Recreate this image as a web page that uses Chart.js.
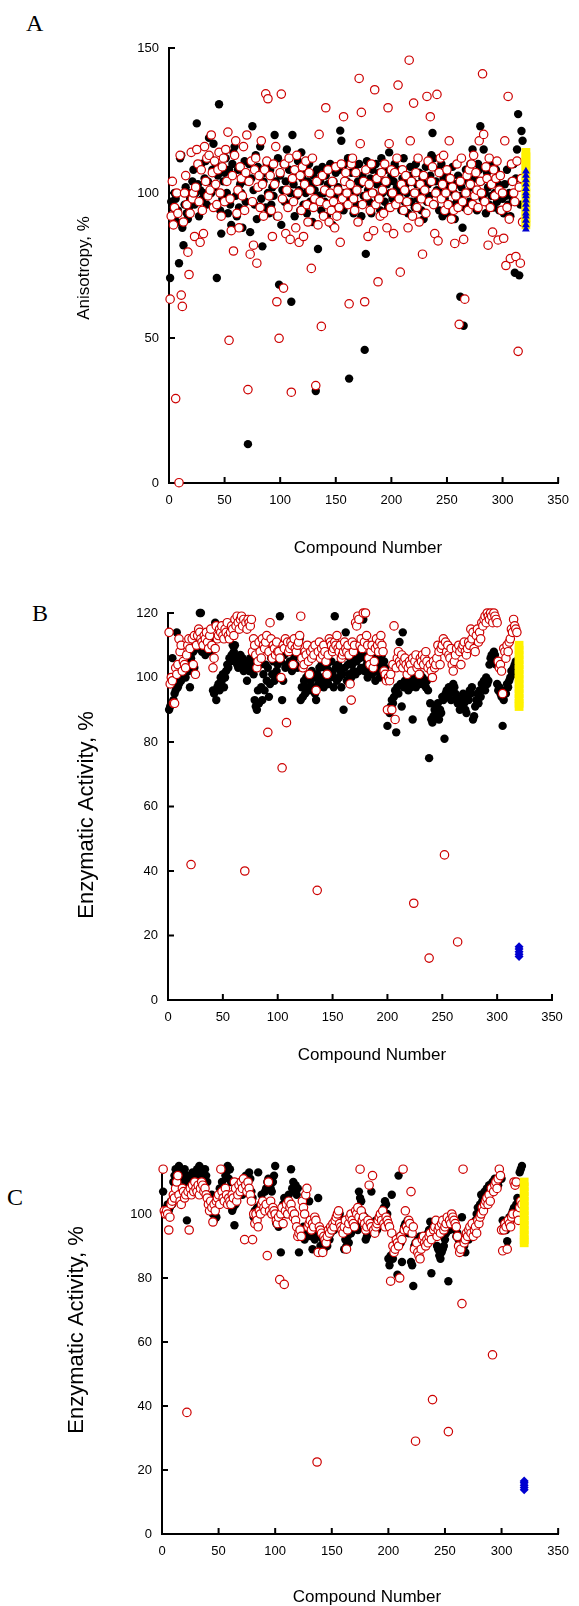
<!DOCTYPE html>
<html>
<head>
<meta charset="utf-8">
<script src="https://cdn.jsdelivr.net/npm/chart.js@4/dist/chart.umd.min.js"></script>
<style>
  body { margin: 0; background: #fff; }
  #page { position: relative; width: 579px; height: 1606px; overflow: hidden; }
  canvas { position: absolute; left: 0; }
  .tag { position: absolute; font-family: "Liberation Serif", serif; font-size: 24px; color: #000; line-height: 24px; }
</style>
</head>
<body>
<div id="page">
  <div class="tag" style="left:26px; top:11px;">A</div>
  <div class="tag" style="left:32px; top:601px;">B</div>
  <div class="tag" style="left:7px; top:1185px;">C</div>
  <canvas id="chartA" width="579" height="560" style="top:0px"></canvas>
  <canvas id="chartB" width="579" height="510" style="top:560px"></canvas>
  <canvas id="chartC" width="579" height="536" style="top:1070px"></canvas>
</div>
<script>
// compound numbers 1..318 (x categories)
const compoundNo = Array.from({ length: 318 }, (_, i) => i + 1);

// Panel A - anisotropy, %
const anisoBlack = [
  70.7, 97, 95, 92, 100, 98, 90, 94, 75.8, 112, 113, 88, 82, 96, 102, 93, 91, 95, 98, 100,
  104, 108, 96, 100, 124, 103, 92, 101, 110, 98, 100, 105, 111, 96, 104, 119, 112, 100, 108, 117,
  102, 110, 70.7, 106, 130.6, 94, 86, 98, 104, 107, 112, 100, 93, 108, 96, 89, 110, 114, 116, 99,
  92, 108, 95, 103, 100, 88, 106, 111, 97, 104, 13.4, 110, 86.5, 105, 123, 101, 96, 113, 91, 109,
  102, 116, 98, 81.6, 104, 107, 95, 110, 100, 93, 108, 96, 102, 99, 120, 104, 92, 112, 68.4, 106,
  89, 101, 110, 97, 104, 115, 96, 108, 100, 62.5, 120, 103, 92, 107, 99, 111, 101, 94, 114, 105,
  96, 108, 100, 93, 104, 110, 97, 103, 90, 106, 101, 31.7, 108, 80.7, 99, 104, 94, 109, 100, 97,
  106, 92, 103, 100, 110, 96, 89, 104, 99, 107, 95, 102, 108, 121.5, 118, 100, 94, 110, 96, 104,
  112, 36, 98, 107, 101, 93, 108, 100, 96, 104, 110, 103, 92, 106, 99, 45.9, 79, 111, 101, 97,
  105, 93, 108, 100, 96, 110, 103, 98, 107, 94, 112, 100, 104, 97, 108, 103, 95, 114, 100, 106,
  98, 104, 110, 96, 102, 108, 99, 101, 94, 105, 112, 97, 103, 100, 93, 106, 109, 97, 104, 100,
  95, 110, 103, 98, 107, 100, 94, 105, 91, 102, 109, 97, 103, 99, 106, 113, 120.7, 112, 96, 104,
  101, 108, 94, 100, 110, 92, 105, 98, 103, 107, 93, 101, 96, 104, 109, 100, 91, 103, 97, 106,
  99, 64.2, 102, 88, 54.2, 95, 108, 100, 104, 97, 110, 102, 115, 96, 105, 101, 94, 110, 108, 123,
  104, 98, 115, 100, 93, 107, 102, 96, 110, 99, 104, 95, 100, 108, 97, 103, 94, 106, 100, 98,
  93, 103, 99, 108, 96, 100, 92, 104, 98, 110, 72.5, 105, 115, 127.2, 71.6, 96, 121.4, 118
];
const anisoRed = [
  63.4, 92, 104, 89, 95, 29.1, 100, 93, 0.1, 113, 64.8, 60.9, 90, 100, 106, 96, 79.6, 71.9, 93, 114,
  98, 100, 85, 102, 115, 110, 97, 83, 108, 94, 86, 116, 104, 112, 99, 113, 101, 120, 107, 95,
  111, 103, 96, 108, 114, 100, 92, 109, 112, 97, 115, 104, 121, 49.2, 98, 87, 106, 80, 113, 118,
  93, 101, 88, 109, 105, 99, 116, 94, 107, 120, 32.2, 104, 78.9, 111, 97, 82, 108, 112, 75.8, 102,
  106, 95, 118, 103, 92, 108, 134.2, 111, 132.5, 99, 106, 94, 85, 110, 103, 116, 62.5, 92, 49.9, 107,
  134.1, 98, 67.2, 110, 86, 101, 95, 112, 84, 31.3, 105, 97, 108, 88, 113, 100, 83, 106, 94, 109,
  85, 103, 111, 96, 90, 107, 101, 74, 112, 95, 98, 33.6, 104, 89, 120.2, 97, 54, 106, 92, 101,
  129.4, 96, 108, 90, 100, 94, 104, 97, 88, 109, 92, 101, 95, 83, 110, 98, 126.3, 104, 107, 100,
  96, 61.8, 103, 110, 112, 98, 94, 107, 101, 90, 139.5, 117, 127.8, 96, 104, 62.5, 108, 99, 85, 103,
  94, 110, 100, 87, 135.6, 96, 105, 69.4, 98, 92, 107, 101, 93, 110, 104, 88, 129.4, 117, 95, 108,
  100, 86, 107, 96, 112, 137.2, 98, 72.7, 103, 108, 94, 101, 106, 97, 88, 145.8, 118, 104, 92, 131,
  100, 107, 95, 112, 90, 103, 98, 78.9, 106, 101, 93, 133.3, 111, 97, 126.3, 104, 109, 96, 86, 100,
  134, 83.5, 107, 112, 98, 103, 113, 94, 100, 108, 96, 118, 105, 91, 102, 94, 82.6, 99, 110, 95,
  54.7, 104, 112, 97, 84, 63.4, 100, 106, 94, 108, 103, 110, 96, 113, 99, 107, 101, 95, 118, 104,
  100, 141.1, 120.2, 97, 109, 105, 82, 112, 95, 103, 86.5, 108, 99, 105, 111, 83.8, 101, 106, 94, 100,
  84.4, 118, 75, 95, 133.3, 91, 77.4, 110, 104, 100, 97, 78.1, 111, 45.4, 102, 75.8, 105, 90
];
const anisoYellow = [89, 90, 91.5, 93, 94.5, 96, 98, 100, 102, 104, 106, 108, 109.5, 111, 112.5, 114];
const anisoBlue = [87.5, 89, 90.5, 92, 93, 94.5, 96, 97.5, 99, 100, 101.5, 103, 104.5, 106, 107.5];

// Panel B - enzymatic activity, %
const enzBBlack = [
  90, 91, 92, 106, 93, 95, 96, 114, 97, 98, 100, 99, 102, 101, 104, 100, 103, 105, 102, 97,
  106, 104, 108, 103, 110, 109, 112, 111, 120, 120, 108, 110, 112, 107, 111, 109, 113, 110, 108, 112,
  96, 95, 117, 93, 97, 98, 96, 100, 99, 101, 97, 100, 102, 104, 103, 106, 105, 107, 110, 108,
  110, 106, 104, 103, 105, 107, 104, 106, 102, 103, 105, 99, 104, 102, 106, 103, 105, 101, 93, 91,
  90, 96, 92, 104, 97, 93, 101, 96, 104, 99, 103, 94, 98, 106, 101, 105, 99, 107, 102, 104,
  100, 119, 105, 93, 99, 107, 103, 109, 104, 110, 105, 108, 102, 110, 106, 104, 109, 103, 107, 112,
  93, 97, 94, 99, 95, 100, 97, 101, 96, 99, 102, 97, 100, 95, 93, 101, 98, 103, 99, 104,
  100, 97, 103, 99, 104, 98, 102, 100, 105, 101, 97, 119, 103, 99, 104, 100, 102, 97, 101, 90,
  103, 114, 99, 104, 101, 106, 100, 104, 102, 107, 101, 105, 108, 102, 106, 103, 107, 118, 102, 106,
  104, 100, 107, 102, 105, 101, 106, 103, 99, 105, 102, 106, 100, 104, 107, 101, 105, 103, 100, 85,
  90, 89, 91, 93, 92, 94, 96, 83, 97, 95, 111, 98, 91, 114, 97, 99, 98, 100, 96, 99,
  97, 100, 87, 98, 99, 97, 100, 98, 99, 101, 98, 100, 99, 98, 97, 99, 96, 75, 92, 87,
  86, 88, 90, 89, 91, 92, 87, 90, 89, 94, 93, 81, 95, 96, 94, 97, 95, 93, 96, 98,
  97, 95, 94, 92, 93, 90, 91, 93, 95, 92, 90, 89, 94, 93, 96, 95, 97, 87, 88, 91,
  93, 95, 92, 96, 94, 98, 97, 99, 96, 100, 98, 99, 104, 106, 107, 105, 108, 107, 104, 98,
  96, 97, 95, 94, 85, 93, 96, 95, 98, 97, 99, 100, 102, 101, 103, 104, 105, 103
];
const enzBRed = [
  114, 98, 100, 99, 92, 92, 103, 101, 104, 112, 108, 110, 102, 105, 104, 103, 107, 110, 112, 109,
  42, 112, 104, 113, 101, 110, 113, 115, 114, 112, 111, 110, 113, 112, 114, 111, 109, 113, 115, 110,
  103, 106, 109, 116, 112, 113, 115, 114, 116, 113, 112, 115, 114, 117, 113, 112, 114, 116, 115, 113,
  118, 116, 119, 117, 115, 118, 119, 116, 118, 40, 117, 115, 118, 117, 116, 118, 108, 112, 110, 107,
  103, 105, 111, 108, 106, 112, 110, 109, 111, 113, 83, 108, 117, 112, 106, 110, 109, 107, 111, 108,
  108, 106, 100, 72, 110, 109, 112, 86, 111, 108, 109, 111, 110, 104, 112, 109, 108, 110, 111, 113,
  119, 106, 103, 104, 108, 107, 110, 105, 101, 108, 106, 109, 107, 110, 96, 34, 108, 111, 106, 109,
  107, 110, 108, 105, 101, 107, 112, 111, 110, 108, 109, 111, 110, 113, 109, 108, 110, 106, 107, 108,
  111, 109, 108, 110, 107, 98, 93, 111, 108, 110, 117, 116, 119, 118, 110, 112, 109, 120, 111, 120,
  113, 110, 106, 104, 108, 110, 103, 105, 109, 112, 110, 108, 111, 113, 110, 108, 102, 101, 99, 90,
  100, 99, 101, 90, 104, 116, 87, 103, 106, 108, 105, 104, 107, 103, 105, 106, 104, 101, 103, 105,
  104, 102, 106, 30, 105, 107, 103, 104, 101, 106, 105, 107, 104, 106, 108, 105, 103, 13, 104, 102,
  100, 105, 103, 104, 106, 110, 108, 104, 109, 110, 112, 45, 111, 108, 110, 107, 106, 109, 104, 102,
  105, 107, 109, 18, 110, 108, 104, 109, 110, 111, 108, 107, 109, 111, 110, 115, 112, 114, 109, 108,
  113, 115, 111, 114, 112, 117, 116, 118, 119, 117, 120, 119, 118, 120, 119, 117, 120, 119, 118, 117,
  105, 103, 104, 102, 95, 109, 108, 106, 110, 108, 111, 112, 115, 114, 118, 116, 115, 114
];
const enzBYellow = [91, 92, 93.5, 95, 96.5, 98, 99.5, 101, 102.5, 104, 105.5, 107, 108.5, 110];
const enzBBlue = [13.5, 14.2, 15, 15.8, 16.5];

// Panel C - enzymatic activity, %
const enzCBlack = [
  107, 101, 100, 102, 103, 101, 102, 104, 103, 110, 112, 114, 113, 110, 115, 114, 112, 113, 111, 114,
  110, 98, 112, 109, 111, 108, 113, 112, 110, 111, 114, 113, 115, 112, 114, 113, 111, 114, 112, 110,
  105, 103, 104, 106, 100, 98, 104, 99, 103, 105, 108, 107, 110, 106, 108, 112, 113, 115, 111, 114,
  110, 101, 102, 96.5, 103, 105, 109, 107, 110, 108, 106, 111, 109, 112, 108, 110, 113, 111, 107, 105,
  99, 101, 98, 102, 113, 100, 103, 106, 104, 101, 107, 108, 110, 111, 109, 108, 107, 110, 112, 115,
  97, 99, 96, 100, 88, 101, 103, 105, 100, 102, 104, 106, 103, 114, 108, 110, 107, 109, 106, 108,
  88, 93, 95, 94, 96, 92, 95, 93, 94, 104, 96, 93, 89, 95, 92, 97, 93, 105, 94, 90,
  88, 92, 89, 91, 93, 90, 95, 92, 94, 96, 97, 95, 98, 96, 99, 97, 100, 98, 96, 95,
  89, 92, 90, 93, 91, 95, 94, 97, 96, 99, 98, 96, 95, 107, 105, 104, 100, 98, 99, 92,
  93, 94, 95, 96, 107, 95, 97, 96, 98, 95, 97, 99, 100, 98, 101, 102, 104, 103, 100, 86,
  84, 87, 106, 86, 88, 90, 92, 81, 112, 93, 91, 85, 94, 96, 97, 95, 98, 94, 96, 85,
  84, 77.5, 90, 91, 89, 92, 90, 93, 91, 92, 90, 93, 92, 91, 94, 95, 97.6, 81.5, 96, 95,
  94, 93, 90, 89, 87, 86, 88, 89, 90, 92, 94, 96, 79, 95, 97, 96, 98, 97, 95, 93,
  94, 92, 90, 89, 99, 91, 90, 88, 93, 94, 92, 95, 96, 97, 94, 96, 98, 100, 102, 101,
  103, 106, 104, 105, 107, 104, 108, 106, 109, 107, 108, 110, 109, 111, 108, 110, 109, 111, 112, 111,
  98, 96, 97, 95, 91.5, 97, 99, 98, 100, 101, 102, 100, 103, 105, 104, 113, 114, 115
];
const enzCRed = [
  114, 101, 100, 101, 100, 95, 99, 103, 104, 106, 105, 108, 110, 112, 106, 104, 103, 108, 107, 105,
  106, 38, 107, 95, 108, 106, 109, 107, 110, 108, 107, 109, 106, 108, 110, 109, 107, 108, 106, 105,
  103, 101, 104, 102, 97.5, 103, 101, 104, 105, 106, 103, 114, 107, 105, 104, 108, 106, 103, 105, 104,
  103, 106, 105, 110, 108, 104, 106, 109, 107, 110, 108, 111, 92, 109, 107, 110, 108, 106, 104, 92,
  100, 97, 100, 98, 96, 101, 100, 103, 104, 102, 101, 103, 87, 110, 101, 104, 100, 102, 101, 100,
  98, 97, 99, 79.5, 100, 102, 97, 78, 101, 103, 100, 104, 102, 103, 101, 99, 100, 98, 96, 93,
  94, 95, 93, 104, 102, 100, 106, 108, 96, 97, 98, 95, 97, 96, 99, 98, 22.5, 88, 96, 95,
  94, 88, 93, 92, 91, 93, 95, 94, 96, 95, 97, 96, 98, 99, 100, 101, 97, 96, 95, 94,
  96, 98, 89, 95, 97, 99, 100, 98, 97, 96, 101, 100, 102, 99, 114, 101, 98, 99, 97, 95,
  96, 98, 109, 97, 96, 112, 95, 94, 96, 97, 98, 99, 100, 98, 101, 97, 96, 99, 98, 97,
  96, 79, 94, 90, 88, 89, 92, 91, 90, 80, 93, 92, 114, 95, 101, 96, 95, 98, 97, 107,
  94, 96, 89, 29, 91, 88, 87, 86, 89, 92, 93, 91, 90, 92, 91, 93, 94, 92, 42, 95,
  96, 98, 93, 95, 96, 94, 97, 98, 95, 96, 97, 99, 32, 98, 97, 100, 99, 98, 97, 96,
  93, 90, 88, 89, 72, 114, 91, 92, 94, 93, 95, 96, 94, 97, 93, 95, 96, 94, 98, 97,
  99, 100, 102, 101, 103, 104, 105, 103, 106, 104, 108, 56, 107, 109, 110, 108, 111, 114, 112, 95,
  88.5, 95, 97, 96, 89, 98, 97, 96, 99, 100, 110, 109, 110, 100, 98, 102, 104, 103
];
const enzCYellow = [91, 92, 93.5, 95, 96.5, 98, 99.5, 101, 102.5, 104, 105.5, 107, 108.5, 110];
const enzCBlue = [13.8, 14.5, 15.2, 16, 16.6];

const xTicks = [0, 50, 100, 150, 200, 250, 300, 350];

function pts(ys) { return ys.map((v, i) => ({ x: compoundNo[i], y: v })); }
function col(ys, x) { return ys.map(v => ({ x: x, y: v })); }

// ticks drawn inward from the axis lines
const inwardTicks = {
  id: 'inwardTicks',
  beforeDatasetsDraw(chart) {
    const { ctx, chartArea: a, scales: { x, y } } = chart;
    ctx.save();
    ctx.strokeStyle = '#000';
    ctx.lineWidth = 2;
    ctx.beginPath();
    x.ticks.forEach(t => {
      const px = x.getPixelForValue(t.value);
      ctx.moveTo(px, a.bottom); ctx.lineTo(px, a.bottom - 6);
    });
    y.ticks.forEach(t => {
      const py = y.getPixelForValue(t.value);
      ctx.moveTo(a.left, py); ctx.lineTo(a.left + 6, py);
    });
    ctx.stroke();
    ctx.restore();
  }
};

// axis titles placed where the original figure has them
const axisTitles = {
  id: 'axisTitles',
  afterDraw(chart, args, o) {
    const ctx = chart.ctx;
    ctx.save();
    ctx.fillStyle = '#000';
    ctx.textAlign = 'center';
    ctx.textBaseline = 'middle';
    ctx.font = o.xSize + 'px "Liberation Sans", Arial, sans-serif';
    ctx.fillText(o.xText, o.xPos[0], o.xPos[1]);
    ctx.translate(o.yPos[0], o.yPos[1]);
    ctx.rotate(-Math.PI / 2);
    ctx.font = o.ySize + 'px "Liberation Sans", Arial, sans-serif';
    ctx.fillText(o.yText, 0, 0);
    ctx.restore();
  }
};

function makePanel(id, cfg) {
  const H = cfg.height;
  const datasets = [
    { data: pts(cfg.red), order: 1, pointStyle: 'circle', pointRadius: 4.2, borderWidth: 1.2,
      borderColor: 'rgb(205,0,0)', backgroundColor: '#fff' },
    { data: pts(cfg.black), order: 2, pointStyle: 'circle', pointRadius: 4.2, borderWidth: 0,
      borderColor: '#000', backgroundColor: '#000' },
    { data: col(cfg.yellow, cfg.refX), order: 0, pointStyle: 'rect', pointRadius: 6.2, borderWidth: 0,
      backgroundColor: '#fff200', borderColor: '#fff200' },
    { data: col(cfg.blue, cfg.refX), order: -1, pointStyle: cfg.blueStyle, pointRadius: cfg.blueR, borderWidth: 0,
      backgroundColor: '#0000d0', borderColor: '#0000d0' }
  ].map(d => Object.assign(d, { clip: false, pointHoverRadius: d.pointRadius }));

  return new Chart(document.getElementById(id), {
    type: 'scatter',
    data: { datasets },
    options: {
      responsive: false,
      animation: false,
      events: [],
      layout: { padding: { left: 0, top: cfg.top, right: 579 - cfg.right, bottom: 0 } },
      plugins: {
        legend: { display: false },
        tooltip: { enabled: false },
        axisTitles: {
          xText: 'Compound Number', xSize: 17, xPos: cfg.xTitlePos,
          yText: cfg.yTitle, ySize: cfg.yTitleSize, yPos: cfg.yTitlePos
        }
      },
      scales: {
        x: {
          type: 'linear', min: 0, max: 350,
          afterFit(s) { s.height = H - cfg.bottom; },
          afterBuildTicks(s) { s.ticks = xTicks.map(v => ({ value: v })); },
          grid: { display: false, drawTicks: false },
          border: { display: true, color: '#000', width: 2 },
          ticks: { padding: 10, color: '#000', font: { family: 'Liberation Sans', size: 13 } }
        },
        y: {
          type: 'linear', min: 0, max: cfg.yMax,
          afterFit(s) { s.width = cfg.left; },
          afterBuildTicks(s) { s.ticks = cfg.yTicks.map(v => ({ value: v })); },
          grid: { display: false, drawTicks: false },
          border: { display: true, color: '#000', width: 2 },
          ticks: { padding: 10, color: '#000', font: { family: 'Liberation Sans', size: 13 } }
        }
      }
    },
    plugins: [inwardTicks, axisTitles]
  });
}

makePanel('chartA', {
  height: 560, top: 48, bottom: 483, left: 169, right: 567,
  yMax: 150, yTicks: [0, 50, 100, 150],
  yTitle: 'Anisotropy, %', yTitleSize: 17, yTitlePos: [84, 268], xTitlePos: [368, 548],
  black: anisoBlack, red: anisoRed, yellow: anisoYellow, blue: anisoBlue,
  refX: 321, blueStyle: 'triangle', blueR: 4.5
});
makePanel('chartB', {
  height: 510, top: 53, bottom: 440, left: 168, right: 552,
  yMax: 120, yTicks: [0, 20, 40, 60, 80, 100, 120],
  yTitle: 'Enzymatic Activity, %', yTitleSize: 22, yTitlePos: [87, 255], xTitlePos: [372, 495],
  black: enzBBlack, red: enzBRed, yellow: enzBYellow, blue: enzBBlue,
  refX: 320, blueStyle: 'rectRot', blueR: 4.5
});
makePanel('chartC', {
  height: 536, top: 96, bottom: 464, left: 162, right: 559,
  yMax: 115, yTicks: [0, 20, 40, 60, 80, 100],
  yTitle: 'Enzymatic Activity, %', yTitleSize: 22, yTitlePos: [77, 260], xTitlePos: [367, 527],
  black: enzCBlack, red: enzCRed, yellow: enzCYellow, blue: enzCBlue,
  refX: 320, blueStyle: 'rectRot', blueR: 4.5
});
</script>
</body>
</html>
